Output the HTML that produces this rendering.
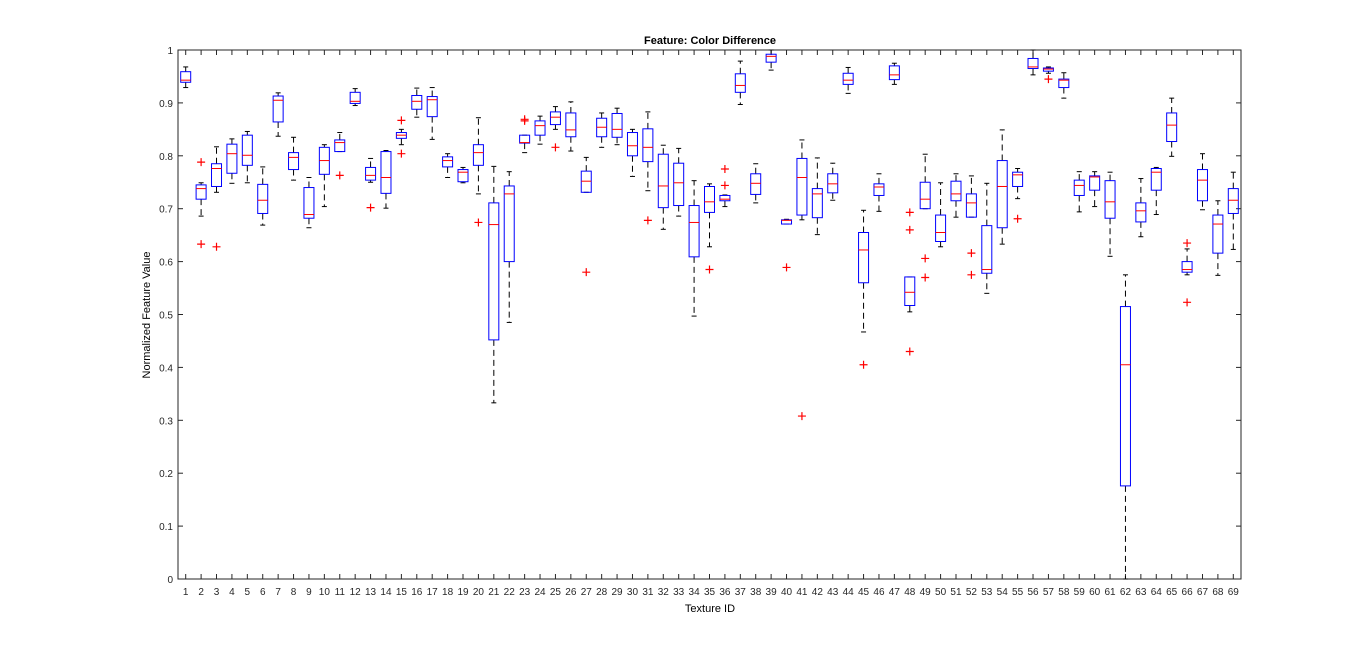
<!DOCTYPE html>
<html><head><meta charset="utf-8"><style>
body{margin:0;background:#fff;width:1366px;height:651px;overflow:hidden;font-family:"Liberation Sans",Arial,sans-serif}
svg text{font-family:"Liberation Sans",Arial,sans-serif}
</style></head><body>
<svg id="chart" width="1366" height="651" xmlns="http://www.w3.org/2000/svg">
<text x="710" y="44" font-size="11" font-weight="bold" text-anchor="middle">Feature: Color Difference</text>
<text x="710" y="612" font-size="11" text-anchor="middle">Texture ID</text>
<text x="150" y="315" font-size="11" text-anchor="middle" transform="rotate(-90 150 315)">Normalized Feature Value</text>
<g id="marks"></g>
</svg>
<script>
const lowWhisker=[0.929,0.686,0.731,0.748,0.749,0.669,0.837,0.754,0.664,0.704,0.808,0.895,0.750,0.701,0.821,0.873,0.831,0.759,0.749,0.728,0.333,0.485,0.806,0.822,0.850,0.809,0.731,0.816,0.821,0.761,0.734,0.661,0.686,0.497,0.628,0.704,0.897,0.711,0.962,0.671,0.679,0.651,0.716,0.918,0.467,0.695,0.935,0.505,0.700,0.628,0.684,0.684,0.540,0.633,0.719,0.953,0.956,0.909,0.694,0.704,0.610,0.0,0.647,0.689,0.799,0.575,0.698,0.574,0.623];
const q1=[0.939,0.718,0.742,0.767,0.782,0.691,0.864,0.774,0.682,0.765,0.808,0.899,0.754,0.729,0.833,0.888,0.874,0.779,0.751,0.782,0.452,0.600,0.824,0.839,0.859,0.836,0.731,0.836,0.835,0.800,0.789,0.702,0.706,0.609,0.693,0.715,0.920,0.727,0.977,0.671,0.688,0.683,0.730,0.935,0.560,0.725,0.944,0.517,0.700,0.638,0.715,0.684,0.578,0.664,0.742,0.965,0.960,0.929,0.725,0.735,0.682,0.176,0.675,0.735,0.827,0.580,0.715,0.616,0.691];
const medians=[0.943,0.738,0.776,0.804,0.801,0.716,0.905,0.797,0.689,0.791,0.825,0.903,0.763,0.759,0.839,0.903,0.906,0.791,0.769,0.806,0.670,0.728,0.825,0.857,0.873,0.849,0.752,0.854,0.850,0.819,0.816,0.743,0.749,0.674,0.713,0.718,0.933,0.748,0.988,0.678,0.759,0.728,0.747,0.943,0.622,0.741,0.953,0.542,0.718,0.655,0.728,0.711,0.585,0.742,0.764,0.968,0.964,0.943,0.744,0.760,0.713,0.405,0.696,0.769,0.858,0.585,0.754,0.671,0.716];
const q3=[0.959,0.745,0.785,0.822,0.839,0.746,0.913,0.806,0.740,0.816,0.830,0.920,0.778,0.808,0.844,0.914,0.912,0.798,0.774,0.821,0.711,0.743,0.839,0.866,0.883,0.881,0.771,0.871,0.880,0.844,0.851,0.803,0.786,0.706,0.742,0.725,0.955,0.766,0.992,0.679,0.795,0.738,0.766,0.956,0.655,0.747,0.970,0.571,0.750,0.688,0.752,0.728,0.668,0.791,0.769,0.984,0.966,0.945,0.754,0.762,0.753,0.515,0.711,0.776,0.881,0.600,0.774,0.688,0.738];
const highWhisker=[0.968,0.749,0.817,0.832,0.846,0.779,0.919,0.835,0.759,0.821,0.844,0.927,0.795,0.810,0.850,0.928,0.929,0.804,0.778,0.872,0.780,0.770,0.839,0.875,0.893,0.902,0.797,0.881,0.890,0.850,0.883,0.820,0.814,0.753,0.747,0.726,0.979,0.785,1.0,0.680,0.830,0.796,0.786,0.967,0.697,0.766,0.975,0.571,0.803,0.749,0.766,0.762,0.748,0.849,0.776,1.0,0.968,0.957,0.770,0.770,0.769,0.575,0.757,0.778,0.909,0.624,0.804,0.715,0.769];
const outlierIds=[2,2,3,11,13,15,15,20,23,23,25,27,31,35,36,36,40,41,45,48,48,48,49,49,52,52,55,57,66,66];
const outlierVals=[0.788,0.633,0.628,0.763,0.702,0.867,0.804,0.674,0.869,0.866,0.816,0.580,0.678,0.585,0.775,0.744,0.589,0.308,0.405,0.693,0.660,0.430,0.606,0.570,0.616,0.575,0.681,0.945,0.635,0.523];
const yTicks=[0,0.1,0.2,0.3,0.4,0.5,0.6,0.7,0.8,0.9,1];
const yTickLabels=["0","0.1","0.2","0.3","0.4","0.5","0.6","0.7","0.8","0.9","1"];

const L=178,R=1241,T=50,B=579,N=medians.length;
const xs=i=>L+(i-0.5)*(R-L)/N;
const ys=v=>B-v*(B-T);
const NS='http://www.w3.org/2000/svg';
const g=document.getElementById('marks');
function mk(tag,a,parent){const e=document.createElementNS(NS,tag);for(const k in a)e.setAttribute(k,a[k]);(parent||g).appendChild(e);return e;}

const ax=mk('rect',{x:L,y:T,width:R-L,height:B-T,fill:'none',stroke:'#262626','stroke-width':1});


yTicks.forEach((v,k)=>{
  const y=ys(v);
  mk('line',{x1:L,x2:L+5,y1:y,y2:y,stroke:'#262626'});
  mk('line',{x1:R-5,x2:R,y1:y,y2:y,stroke:'#262626'});
  const t=mk('text',{x:L-5,y:y+4,'font-size':10,'text-anchor':'end',fill:'#262626'});
  t.textContent=yTickLabels[k];
  
  
});
for(let i=1;i<=N;i++){
  const x=xs(i);
  mk('line',{x1:x,x2:x,y1:B,y2:B-5,stroke:'#262626'});
  mk('line',{x1:x,x2:x,y1:T,y2:T+5,stroke:'#262626'});
  const t=mk('text',{x:x,y:B+16,'font-size':10,'text-anchor':'middle',fill:'#262626'});
  t.textContent=String(i);
  
  
}
const bw=10,cw=5;
for(let i=0;i<N;i++){
  const x=xs(i+1);
  const grp=mk('g',{});
  
  
  if(highWhisker[i]>q3[i]){mk('line',{x1:x,x2:x,y1:ys(q3[i]),y2:ys(highWhisker[i]),stroke:'#000','stroke-dasharray':'6,4'},grp);}
  if(lowWhisker[i]<q1[i]){mk('line',{x1:x,x2:x,y1:ys(q1[i]),y2:ys(lowWhisker[i]),stroke:'#000','stroke-dasharray':'6,4'},grp);}
  mk('line',{x1:x-cw/2,x2:x+cw/2,y1:ys(highWhisker[i]),y2:ys(highWhisker[i]),stroke:'#000'},grp);
  mk('line',{x1:x-cw/2,x2:x+cw/2,y1:ys(lowWhisker[i]),y2:ys(lowWhisker[i]),stroke:'#000'},grp);
  mk('rect',{x:x-bw/2,y:ys(q3[i]),width:bw,height:Math.max(1,ys(q1[i])-ys(q3[i])),fill:'none',stroke:'#0000ff'},grp);
  mk('line',{x1:x-bw/2,x2:x+bw/2,y1:ys(medians[i]),y2:ys(medians[i]),stroke:'#ff0000'},grp);
}
outlierIds.forEach((id,k)=>{
  const x=xs(id),y=ys(outlierVals[k]);
  const o=mk('path',{d:`M${x-4},${y}H${x+4}M${x},${y-4}V${y+4}`,stroke:'#ff0000','stroke-width':1.2});
  
  
});
</script>
</body></html>
